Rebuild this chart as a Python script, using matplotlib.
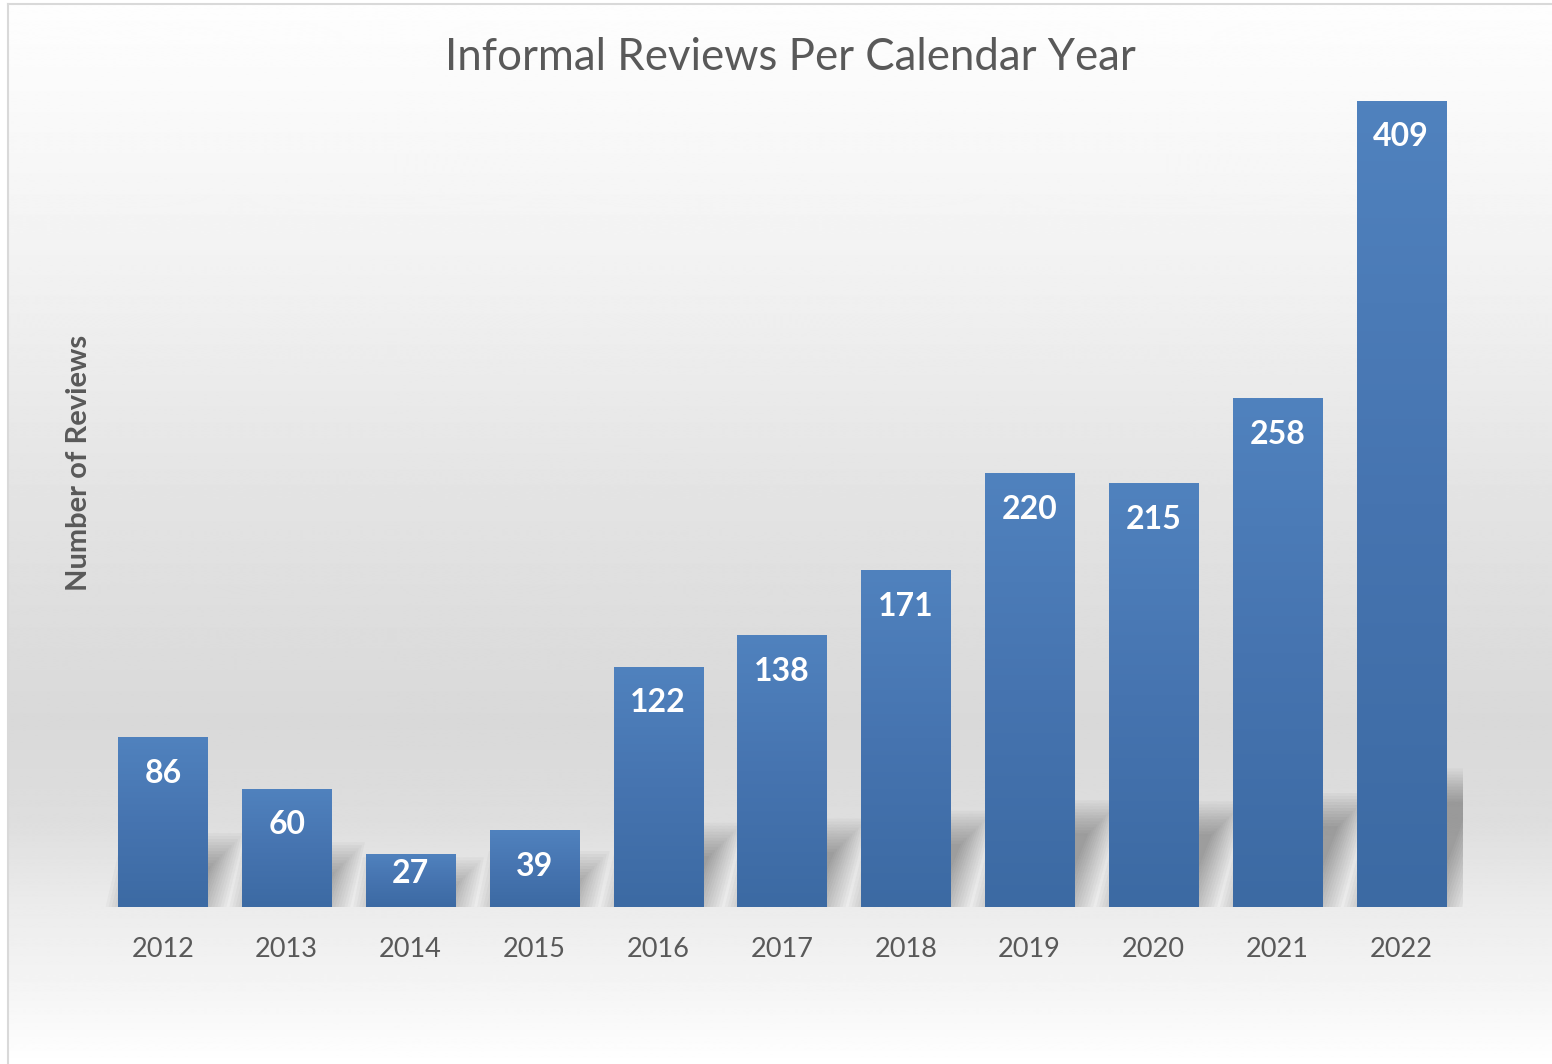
import numpy as np
import matplotlib
matplotlib.use("Agg")
import matplotlib.pyplot as plt
from matplotlib.patches import Polygon
from matplotlib.colors import LinearSegmentedColormap

# data
years = ["2012", "2013", "2014", "2015", "2016", "2017", "2018", "2019", "2020", "2021", "2022"]
reviews = [86, 60, 27, 39, 122, 138, 171, 220, 215, 258, 409]

title = "Informal Reviews Per Calendar Year"
ylabel = "Number of Reviews"

plt.rcParams['font.family'] = ['Lato', 'DejaVu Sans']
W, H = 1552, 1064
fig = plt.figure(figsize=(W / 100, H / 100), dpi=100)
fig.patch.set_facecolor("white")

# chart background gradient (Excel-like)
bg = fig.add_axes([0, 0, 1, 1], zorder=0)
bg.set_axis_off()
bg.set_xlim(0, W)
bg.set_ylim(H, 0)
stops_y = [0, 90, 300, 500, 720, 820, 907, 1000, 1064]
stops_v = [0.995, 0.98, 0.94, 0.89, 0.85, 0.87, 0.925, 0.965, 1.0]
rows = np.interp(np.arange(H), stops_y, stops_v)
bg.imshow(np.tile(rows[:, None], (1, 2)), extent=(8, W, H, 4), cmap="gray",
          vmin=0, vmax=1, aspect="auto", interpolation="bilinear")
bg.plot([8, 8], [4, H], color="#d9d9d9", lw=1.5)
bg.plot([8, W], [4, 4], color="#d9d9d9", lw=1.5)

# plot area
x0, x1, ytop, ybot = 101, 1463, 20, 907
ax = fig.add_axes([x0 / W, (H - ybot) / H, (x1 - x0) / W, (ybot - ytop) / H], zorder=1)
ax.patch.set_alpha(0)
ax.set_xlim(-0.5, len(years) - 0.5)
ax.set_ylim(0, 450)
for s in ax.spines.values():
    s.set_visible(False)
ax.set_yticks([])
ax.set_xticks(range(len(years)))
ax.set_xticklabels(years, fontsize=19.5, color="#595959")
ax.tick_params(axis="x", length=0, pad=21.5)

xpos = np.arange(len(years))
width = 0.72

# pixel scale of the data axes
p0 = ax.transData.transform((0, 0))
p1 = ax.transData.transform((1, 1))
px_x = p1[0] - p0[0]
px_y = p1[1] - p0[1]

# soft skewed shadows behind bars
for xi, v in zip(xpos, reviews):
    hs = 3.0 * np.sqrt(v)
    dx = 0.32 * hs * px_y / px_x
    for k in range(12):
        grow = -14 + k * 3.0  # px
        gx = grow / px_x
        gy = grow / px_y
        l, r = xi - width / 2 + 0.05, xi + width / 2
        poly = Polygon([(l - gx, 0), (r + gx, 0),
                        (r + gx + dx, hs + gy), (l - gx + dx, hs + gy)],
                       closed=True, facecolor="black", edgecolor="none",
                       alpha=0.028, zorder=1)
        ax.add_patch(poly)

bars = ax.bar(xpos, reviews, width=width, color="#4677b3", zorder=2)

# vertical gradient on each bar
cmap = LinearSegmentedColormap.from_list("bar", ["#3c6aa3", "#4674b0", "#5082be"])
grad = np.linspace(0, 1, 256)[:, None]
for b in bars:
    bx, by = b.get_x(), b.get_y()
    bw, bh = b.get_width(), b.get_height()
    im = ax.imshow(grad, extent=(bx, bx + bw, by, by + bh), origin="lower",
                   cmap=cmap, aspect="auto", zorder=3, interpolation="bilinear")
    im.set_clip_path(b)

ax.set_xlim(-0.5, len(years) - 0.5)
ax.set_ylim(0, 450)

for xi, v in zip(xpos, reviews):
    off = -26 if v * px_y > 70 else -14.5
    ax.annotate(str(v), (xi, v), xytext=(0, off), textcoords="offset points",
                ha="center", va="center", fontsize=23, fontweight="bold",
                color="white", zorder=4)

fig.text(790 / W, 1 - 57 / H, title, ha="center", va="center",
         fontsize=31.5, color="#595959")
fig.text(79 / W, 1 - 463 / H, ylabel, ha="center", va="center", rotation=90,
         fontsize=21, fontweight="bold", color="#595959")

fig.savefig("out.png", dpi=100)
